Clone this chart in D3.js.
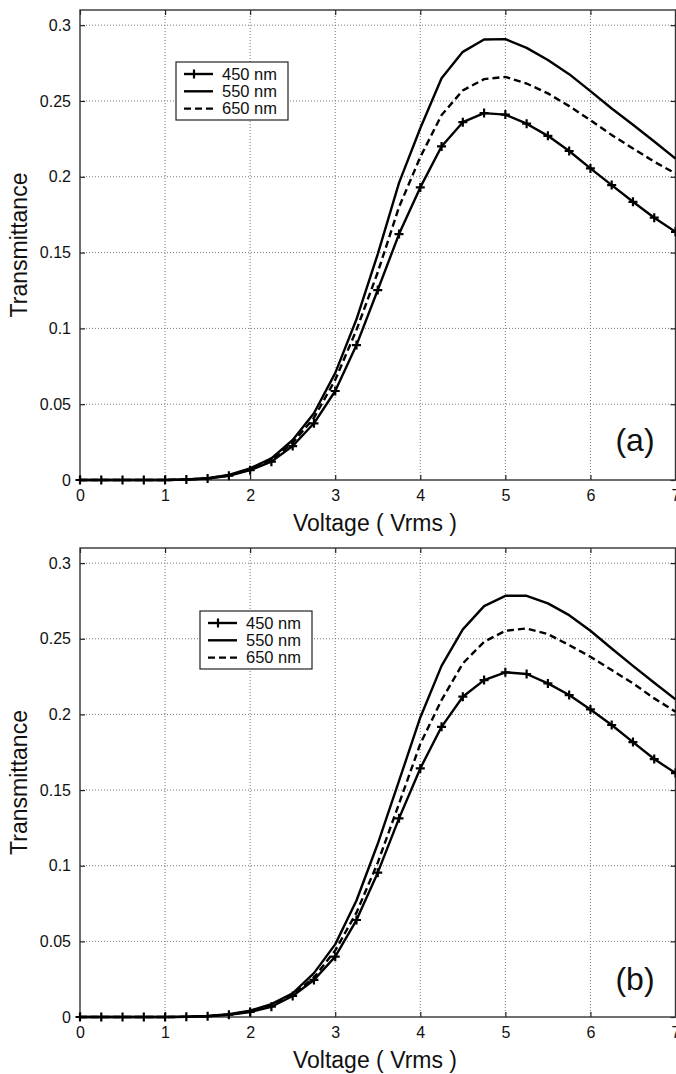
<!DOCTYPE html>
<html>
<head>
<meta charset="utf-8">
<script src="https://cdn.jsdelivr.net/npm/d3@7"></script>
<style>
  body { margin: 0; background: #fff; }
  svg { display: block; font-family: "Liberation Sans", Arial, sans-serif; }
</style>
</head>
<body>
<div id="chart"></div>
<script>
const voltage = [0, 0.25, 0.5, 0.75, 1, 1.25, 1.5, 1.75, 2, 2.25, 2.5, 2.75, 3, 3.25, 3.5,
  3.75, 4, 4.25, 4.5, 4.75, 5, 5.25, 5.5, 5.75, 6, 6.25, 6.5, 6.75, 7];

// panel (a)
const a450 = [0, 0, 0, 0, 0, 0.0003, 0.001, 0.0028, 0.0065, 0.0121, 0.0224, 0.0374, 0.0587, 0.089, 0.1253,
  0.1622, 0.193, 0.220, 0.236, 0.242, 0.241, 0.235, 0.227, 0.217, 0.2055, 0.1945, 0.1835, 0.173, 0.1637];
const a550 = [0, 0, 0, 0, 0, 0.0003, 0.0012, 0.0033, 0.0077, 0.0143, 0.0264, 0.044, 0.0705, 0.106, 0.149,
  0.196, 0.232, 0.265, 0.2824, 0.2905, 0.2908, 0.285, 0.277, 0.2677, 0.2565, 0.245, 0.2343, 0.2233, 0.212];
const a650 = [0, 0, 0, 0, 0, 0.0003, 0.0011, 0.003, 0.007, 0.013, 0.0245, 0.041, 0.066, 0.099, 0.137,
  0.180, 0.213, 0.2407, 0.257, 0.2644, 0.2659, 0.2615, 0.255, 0.2466, 0.2373, 0.2275, 0.2187, 0.2099, 0.2022];

// panel (b)
const b450 = [0, 0, 0, 0, 0, 0.0001, 0.0005, 0.0015, 0.0033, 0.0068, 0.0139, 0.0245, 0.0399, 0.0641, 0.0954,
  0.1313, 0.1643, 0.1918, 0.2117, 0.2227, 0.2278, 0.2267, 0.2205, 0.2128, 0.2033, 0.193, 0.1817, 0.1705, 0.1612];
const b550 = [0, 0, 0, 0, 0, 0.0002, 0.0007, 0.0018, 0.0042, 0.0085, 0.0157, 0.029, 0.048, 0.077, 0.1145,
  0.156, 0.198, 0.2321, 0.2562, 0.2716, 0.2784, 0.2784, 0.2734, 0.2656, 0.2553, 0.2436, 0.2321, 0.2209, 0.21];
const b650 = [0, 0, 0, 0, 0, 0.0001, 0.0006, 0.0016, 0.0038, 0.0077, 0.0147, 0.026, 0.044, 0.069, 0.102,
  0.141, 0.1805, 0.2095, 0.2337, 0.248, 0.2553, 0.2568, 0.2531, 0.2458, 0.2381, 0.2293, 0.2205, 0.2106, 0.2018];

const xTicks = [0, 1, 2, 3, 4, 5, 6, 7];
const yTicks = [0, 0.05, 0.1, 0.15, 0.2, 0.25, 0.3];
const legendLabels = ["450 nm", "550 nm", "650 nm"];

const width = 676, height = 1074;

const svg = d3.select("#chart").append("svg")
  .attr("width", width)
  .attr("height", height);

function drawPanel(opts) {
  const xScale = d3.scaleLinear().domain([0, 7]).range([80, 675.5]);
  const yScale = d3.scaleLinear().domain([0, 0.31]).range([opts.bottom, opts.top]);
  const g = svg.append("g");

  // grid
  g.append("g").selectAll("line").data(xTicks.slice(1, -1)).join("line")
    .attr("x1", d => xScale(d)).attr("x2", d => xScale(d))
    .attr("y1", yScale(0.31)).attr("y2", yScale(0))
    .attr("stroke", "#777").attr("stroke-width", 1).attr("stroke-dasharray", "1,2");
  g.append("g").selectAll("line").data(yTicks.slice(1)).join("line")
    .attr("x1", xScale(0)).attr("x2", xScale(7))
    .attr("y1", d => yScale(d)).attr("y2", d => yScale(d))
    .attr("stroke", "#777").attr("stroke-width", 1).attr("stroke-dasharray", "1,2");

  const xAxis = d3.axisBottom(xScale).tickValues(xTicks).tickSizeInner(-5).tickSizeOuter(0).tickPadding(10)
    .tickFormat(d3.format("d"));
  const yAxis = d3.axisLeft(yScale).tickValues(yTicks).tickSizeInner(-5).tickSizeOuter(0).tickPadding(9)
    .tickFormat(d => String(d));

  const gx = g.append("g").attr("transform", `translate(0,${yScale(0)})`).call(xAxis);
  const gy = g.append("g").attr("transform", `translate(${xScale(0)},0)`).call(yAxis);
  const gt = g.append("g").attr("transform", `translate(0,${yScale(0.31)})`)
    .call(d3.axisTop(xScale).tickValues(xTicks).tickSizeInner(-5).tickSizeOuter(0).tickFormat(""));
  const gr = g.append("g").attr("transform", `translate(${xScale(7)},0)`)
    .call(d3.axisRight(yScale).tickValues(yTicks).tickSizeInner(-5).tickSizeOuter(0).tickFormat(""));

  [gx, gy, gt, gr].forEach(ax => {
    ax.select(".domain").remove();
    ax.selectAll(".tick line").attr("stroke", "#222").attr("stroke-width", 1.2);
    ax.selectAll("text").attr("font-size", 16).attr("fill", "#111")
      .attr("font-family", "'Liberation Sans', Arial, sans-serif");
  });

  // frame
  g.append("rect")
    .attr("x", xScale(0)).attr("y", yScale(0.31))
    .attr("width", xScale(7) - xScale(0)).attr("height", yScale(0) - yScale(0.31))
    .attr("fill", "none").attr("stroke", "#333").attr("stroke-width", 1.4);

  const line = d3.line().x((d, i) => xScale(voltage[i])).y(d => yScale(d));

  g.append("path").attr("d", line(opts.s550))
    .attr("fill", "none").attr("stroke", "#000").attr("stroke-width", 2.4).attr("stroke-linejoin", "round");
  g.append("path").attr("d", line(opts.s650))
    .attr("fill", "none").attr("stroke", "#000").attr("stroke-width", 2.4).attr("stroke-dasharray", "7,4");
  g.append("path").attr("d", line(opts.s450))
    .attr("fill", "none").attr("stroke", "#000").attr("stroke-width", 2.4).attr("stroke-linejoin", "round");

  // "+" markers on 450 nm
  g.append("g").selectAll("path").data(opts.s450).join("path")
    .attr("transform", (d, i) => `translate(${xScale(voltage[i])},${yScale(d)})`)
    .attr("d", "M-4.5,0H4.5M0,-4.5V4.5")
    .attr("stroke", "#000").attr("stroke-width", 2.2);

  // axis labels
  g.append("text")
    .attr("x", 375).attr("y", yScale(0) + 51)
    .attr("text-anchor", "middle").attr("font-size", 23).attr("fill", "#111")
    .text("Voltage ( Vrms )");
  g.append("text")
    .attr("transform", `translate(27,${(yScale(0) + yScale(0.31)) / 2}) rotate(-90)`)
    .attr("text-anchor", "middle").attr("font-size", 23).attr("fill", "#111")
    .text("Transmittance");
  g.append("text")
    .attr("x", 635).attr("y", yScale(0) + opts.tagDy)
    .attr("text-anchor", "middle").attr("font-size", 32).attr("fill", "#111")
    .text(opts.tag);

  // legend
  const lg = g.append("g").attr("transform", `translate(${opts.legend[0]},${opts.legend[1]})`);
  lg.append("rect").attr("width", 112).attr("height", 58)
    .attr("fill", "#fff").attr("stroke", "#222").attr("stroke-width", 1.2);
  const rows = lg.selectAll("g.row").data(legendLabels).join("g")
    .attr("class", "row")
    .attr("transform", (d, i) => `translate(0,${12 + i * 17.3})`);
  rows.append("line")
    .attr("x1", 8).attr("x2", 37).attr("y1", 0).attr("y2", 0)
    .attr("stroke", "#000").attr("stroke-width", 2.4)
    .attr("stroke-dasharray", (d, i) => i === 2 ? "7,4" : null);
  rows.filter((d, i) => i === 0).append("path")
    .attr("d", "M18,-4.5V4.5").attr("stroke", "#000").attr("stroke-width", 2.2);
  rows.append("text")
    .attr("x", 46).attr("y", 5.5)
    .attr("font-size", 16.5).attr("fill", "#111")
    .text(d => d);
}

drawPanel({ top: 10, bottom: 480, s450: a450, s550: a550, s650: a650, tag: "(a)", tagDy: -29, legend: [176, 62] });
drawPanel({ top: 548, bottom: 1017, s450: b450, s550: b550, s650: b650, tag: "(b)", tagDy: -27, legend: [200, 611] });
</script>
</body>
</html>
